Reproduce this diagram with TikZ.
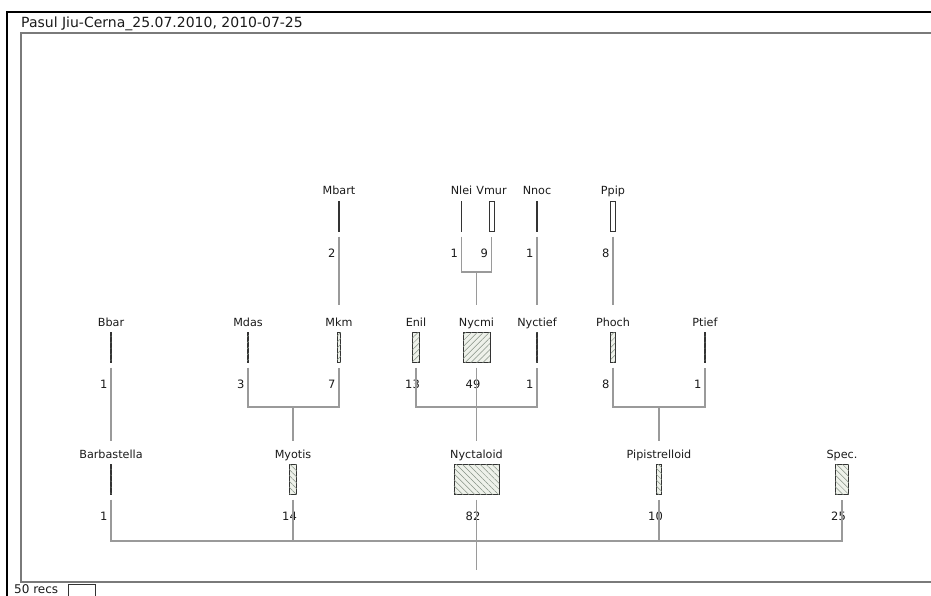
\documentclass[tikz,border=0pt]{standalone}
\usepackage{fontspec}
\setmainfont{DejaVu Sans}
\usepackage{tikz}
\usetikzlibrary{positioning,calc,patterns.meta}
\definecolor{conngray}{HTML}{9A9A9A}
\definecolor{framegray}{HTML}{7A7A7A}
\definecolor{bardraw}{HTML}{333333}
\definecolor{hatchbg}{HTML}{EEF1EA}
\definecolor{hatchln}{HTML}{859185}
\definecolor{txt}{HTML}{1A1A1A}

\begin{document}
\begin{tikzpicture}[x=1pt,y=-1pt,
    lbl/.style={inner sep=0pt, text height=9pt, text depth=3pt, font=\fontsize{11.2}{13}\selectfont, text=txt},
    cnt/.style={inner sep=0pt, anchor=west, font=\fontsize{11.5}{13}\selectfont, text=txt},
    bar/.style={draw=bardraw, line width=0.9pt, minimum height=30pt, inner sep=0pt, outer sep=0pt},
    barC/.style={bar, fill=white},
    barB/.style={bar, fill=hatchbg, postaction={pattern={Lines[angle=45,distance=4.2pt,line width=0.5pt]}, pattern color=hatchln}},
    barA/.style={bar, fill=hatchbg, postaction={pattern={Lines[angle=-45,distance=4.2pt,line width=0.5pt]}, pattern color=hatchln}},
    conn/.style={draw=conngray, line width=1.1pt}]
    \useasboundingbox (0,0) rectangle (931,596);
    \draw[line width=1.6pt] (7,600) -- (7,12) -- (935,12);
    \draw[framegray, line width=1.2pt] (935,33) -- (21,33) -- (21,582) -- (935,582);
    \node[anchor=base west, inner sep=0pt, font=\fontsize{14}{16}\selectfont, text=txt] (title) at (21,28) {Pasul Jiu-Cerna\_25.07.2010, 2010-07-25};

    \foreach \n/\t/\x/\y/\c/\s in {mbart/Mbart/339/192/2/barC, nlei/Nlei/461.5/192/1/barC, vmur/Vmur/491.5/192/9/barC,
        nnoc/Nnoc/537/192/1/barC, ppip/Ppip/613/192/8/barC,
        bbar/Bbar/111/323/1/barB, mdas/Mdas/248/323/3/barB, mkm/Mkm/339/323/7/barB, enil/Enil/416/323/13/barB,
        nycmi/Nycmi/476.5/323/49/barB, nyctief/Nyctief/537/323/1/barB, phoch/Phoch/613/323/8/barB, ptief/Ptief/705/323/1/barB,
        barba/Barbastella/111/455/1/barA, myotis/Myotis/293/455/14/barA, nyctal/Nyctaloid/476.5/455/82/barA,
        pipis/Pipistrelloid/659/455/10/barA, spec/Spec./842/455/25/barA} {
        \node[lbl] (\n) at (\x,\y) {\t};
        \node[\s, minimum width=\c*0.55pt, below=3.5pt of \n] (\n-b) {};
        \node[cnt] (\n-c) at ([shift={(-11pt,-22pt)}]\n-b.south) {\c};
    }

    \coordinate (jn) at (476.5,272);
    \coordinate (jm) at (293,407);
    \coordinate (jy) at (476.5,407);
    \coordinate (jp) at (659,407);
    \coordinate (ja) at (476.5,541);
    \coordinate (root) at (476.5,570);

    \draw[conn] ([yshift=-5pt]mbart-b.south) -- ([yshift=12pt]mkm.north);
    \draw[conn] ([yshift=-5pt]nlei-b.south) |- (jn) -| ([yshift=-5pt]vmur-b.south);
    \draw[conn] (jn) -- ([yshift=12pt]nycmi.north);
    \draw[conn] ([yshift=-5pt]nnoc-b.south) -- ([yshift=12pt]nyctief.north);
    \draw[conn] ([yshift=-5pt]ppip-b.south) -- ([yshift=12pt]phoch.north);

    \draw[conn] ([yshift=-5pt]bbar-b.south) -- ([yshift=8pt]barba.north);
    \draw[conn] ([yshift=-5pt]mdas-b.south) |- (jm) -| ([yshift=-5pt]mkm-b.south);
    \draw[conn] (jm) -- ([yshift=8pt]myotis.north);
    \draw[conn] ([yshift=-5pt]enil-b.south) |- (jy) -| ([yshift=-5pt]nyctief-b.south);
    \draw[conn] ([yshift=-5pt]nycmi-b.south) -- (jy) -- ([yshift=8pt]nyctal.north);
    \draw[conn] ([yshift=-5pt]phoch-b.south) |- (jp) -| ([yshift=-5pt]ptief-b.south);
    \draw[conn] (jp) -- ([yshift=8pt]pipis.north);

    \draw[conn] ([yshift=-5pt]barba-b.south) |- (ja) -| ([yshift=-5pt]spec-b.south);
    \draw[conn] ([yshift=-5pt]myotis-b.south) -- (myotis-b.south |- ja);
    \draw[conn] ([yshift=-5pt]pipis-b.south) -- (pipis-b.south |- ja);
    \draw[conn] ([yshift=-5pt]nyctal-b.south) -- (root);

    \node[anchor=base west, inner sep=0pt, font=\fontsize{12}{14}\selectfont, text=txt] (legend) at (14,593) {50 recs};
    \node[bar, minimum width=27.5pt, anchor=north west] (legbox) at (68,584) {};
\end{tikzpicture}
\end{document}
